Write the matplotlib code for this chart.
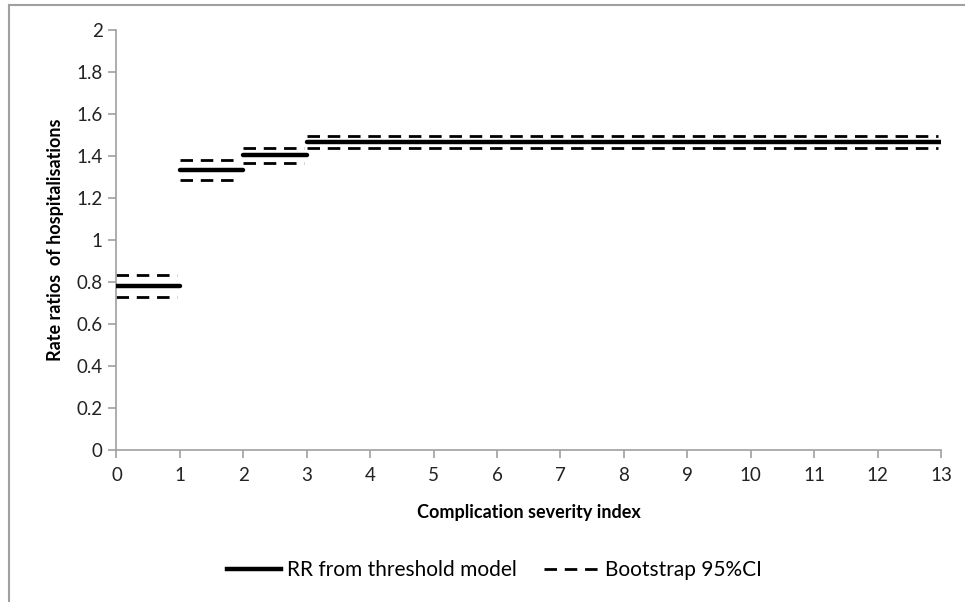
import matplotlib.pyplot as plt
from matplotlib.lines import Line2D

# severity index bands (start, end) and the rate ratio in each
seg_start = [0, 1, 2, 3]
seg_end = [1, 2, 3, 13]
rr = [0.78, 1.333, 1.405, 1.465]
ci_low = [0.73, 1.287, 1.368, 1.44]
ci_high = [0.833, 1.381, 1.44, 1.495]

plt.rcParams['font.family'] = ['Lato', 'DejaVu Sans']

fig = plt.figure(figsize=(9.65, 6.02), dpi=100)
ax = fig.add_axes([0.1207, 0.2525, 0.8545, 0.6975])

grey = '#a0a0a0'
for s, e, r, lo, hi in zip(seg_start, seg_end, rr, ci_low, ci_high):
    ax.plot([s, e], [r, r], color='black', lw=3.2, solid_capstyle='round', zorder=3)
    ax.plot([s, e - 0.05], [lo, lo], color='black', lw=2, ls=(0, (4.5, 2.8)), zorder=2)
    ax.plot([s, e - 0.05], [hi, hi], color='black', lw=2, ls=(0, (4.5, 2.8)), zorder=2)

ax.set_xlim(0, 13)
ax.set_ylim(0, 2)
ax.set_xticks(range(0, 14))
ax.set_yticks([0, 0.2, 0.4, 0.6, 0.8, 1, 1.2, 1.4, 1.6, 1.8, 2])
ax.set_yticklabels(['0', '0.2', '0.4', '0.6', '0.8', '1', '1.2', '1.4', '1.6', '1.8', '2'])
for sp in ['top', 'right']:
    ax.spines[sp].set_visible(False)
for sp in ['left', 'bottom']:
    ax.spines[sp].set_color(grey)
    ax.spines[sp].set_linewidth(1.2)
ax.tick_params(axis='both', direction='out', length=6, width=1.2, color=grey,
               labelsize=13.5, labelcolor='#222222', pad=4)
ax.tick_params(axis='x', pad=6)
ax.set_xlabel('Complication severity index', fontsize=13, fontweight='bold', labelpad=15)
ax.set_ylabel('Rate ratios  of hospitalisations', fontsize=13, fontweight='bold', labelpad=9)

handles = [Line2D([], [], color='black', lw=3.2),
           Line2D([], [], color='black', lw=2, ls=(0, (4.5, 2.8)))]
fig.legend(handles, ['RR from threshold model', 'Bootstrap 95%CI'],
           loc='center', bbox_to_anchor=(0.512, 0.053), ncol=2, frameon=False,
           fontsize=15, handlelength=2.6, handletextpad=0.3, columnspacing=1.3)

# chart-area frame, only left and top edges visible in the crop
fig.add_artist(Line2D([0.009, 0.009], [0, 0.992], color=grey, lw=1.5, transform=fig.transFigure))
fig.add_artist(Line2D([0.009, 1], [0.992, 0.992], color=grey, lw=1.5, transform=fig.transFigure))

fig.savefig('out.png', dpi=100, facecolor='white')
